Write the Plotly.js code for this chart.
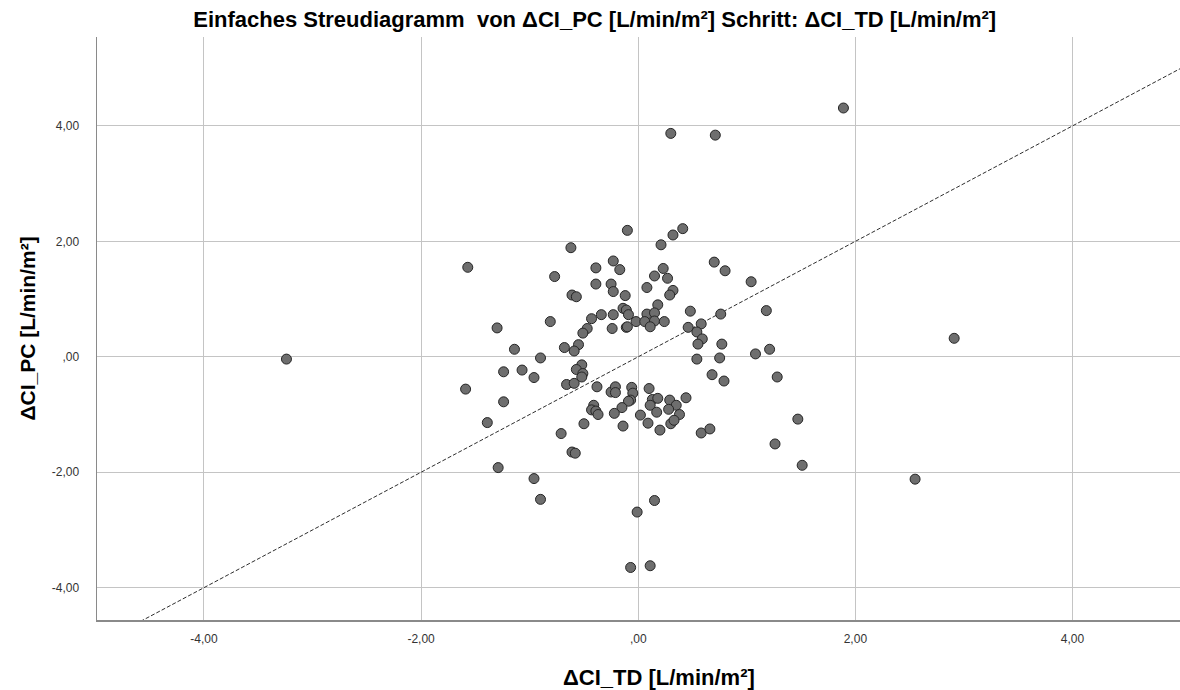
<!DOCTYPE html>
<html>
<head>
<meta charset="utf-8">
<script src="https://cdn.plot.ly/plotly-3.0.1.min.js"></script>
<style>
  html, body { margin: 0; padding: 0; background: #ffffff; }
  #chart { width: 1180px; height: 690px; }
</style>
</head>
<body>
<div id="chart"></div>
<script>
// ΔCI_TD (x) and ΔCI_PC (y), one entry per case, in L/min/m²
const ciTD = [
  -0.10, -0.62, -1.57, -0.23, -0.39, -0.17, -0.77, -0.39, -0.25, -0.23,
  -0.61, -0.57, -0.12, -0.14, -0.11, -0.34, -0.23, -0.43, -0.09, -0.02,
  -0.81, -0.47, -0.24, -0.11, -0.10, -1.30, -0.51, -1.14, -0.68, -0.55,
  -0.59, -0.90,
  0.41, 0.32, 0.21, 0.70, 0.80, 0.23, 0.15, 0.27, 1.04, 0.08,
  0.32, 0.29, 0.18, 0.48, 1.18, 0.76, 0.08, 0.15, 0.06, 0.15,
  0.24, 0.11, 0.58, 0.46, 0.54, 0.59, 0.55, 0.77, 1.21, 1.08,
  0.54, 0.75,
  0.68, 0.79, 1.28, 0.10, 0.13, 0.18, 0.29, 0.35, 0.44, 0.11,
  0.28, 0.38, 0.17, 0.02, 0.09, 0.30, 0.33, 0.20, 0.58, 0.66,
  1.47, 1.26, 1.51, 0.15,
  -1.24, -1.07, -0.96, -0.52, -0.57, -0.51, -0.52, -0.66, -0.59, -1.59,
  -0.38, -0.25, -0.21, -0.21, -0.06, -0.05, -0.07, -0.09, -1.24, -0.41,
  -0.43, -0.39, -0.37, -0.15, -0.22, -1.39, -0.50, -0.14, -0.71, -0.61,
  -0.58, -1.29, -0.96, -0.90,
  -0.01, -0.07, 0.11,
  -3.24, 1.89, 2.91, 2.55, 0.30, 0.71
];
const ciPC = [
  2.19, 1.89, 1.55, 1.66, 1.54, 1.51, 1.39, 1.26, 1.26, 1.13,
  1.07, 1.04, 1.06, 0.84, 0.81, 0.73, 0.73, 0.66, 0.73, 0.61,
  0.61, 0.49, 0.49, 0.51, 0.52, 0.50, 0.41, 0.13, 0.16, 0.21,
  0.10, -0.02,
  2.22, 2.11, 1.94, 1.64, 1.49, 1.53, 1.40, 1.36, 1.30, 1.20,
  1.15, 1.07, 0.90, 0.79, 0.80, 0.74, 0.74, 0.76, 0.61, 0.62,
  0.61, 0.52, 0.57, 0.51, 0.43, 0.31, 0.22, 0.22, 0.13, 0.05,
  -0.04, -0.02,
  -0.31, -0.42, -0.35, -0.55, -0.74, -0.72, -0.75, -0.84, -0.71, -0.84,
  -0.91, -1.00, -0.96, -1.01, -1.15, -1.16, -1.10, -1.27, -1.32, -1.25,
  -1.08, -1.51, -1.88, -2.49,
  -0.26, -0.23, -0.36, -0.14, -0.22, -0.29, -0.35, -0.48, -0.46, -0.56,
  -0.52, -0.61, -0.52, -0.62, -0.53, -0.63, -0.75, -0.77, -0.78, -0.84,
  -0.92, -0.94, -1.00, -0.88, -0.98, -1.14, -1.16, -1.20, -1.33, -1.65,
  -1.67, -1.92, -2.11, -2.47,
  -2.69, -3.65, -3.62,
  -0.04, 4.31, 0.32, -2.12, 3.87, 3.84
];

// Identity line y = x
const identityLine = [-6, 6];

const tickValues = [-4, -2, 0, 2, 4];
const tickLabels = ['-4,00', '-2,00', ',00', '2,00', '4,00'];

const xTitle = 'ΔCI_TD [L/min/m²]';
const yTitle = 'ΔCI_PC [L/min/m²]';
const chartTitle = 'Einfaches Streudiagramm  von ΔCI_PC [L/min/m²] Schritt: ΔCI_TD [L/min/m²]';

const FONT = 'Arial, "Liberation Sans", sans-serif';

const traces = [
  {
    x: identityLine,
    y: identityLine,
    type: 'scatter',
    mode: 'lines',
    line: { color: '#2e2e2e', width: 1, dash: '4px,2px' },
    hoverinfo: 'skip',
    showlegend: false
  },
  {
    x: ciTD,
    y: ciPC,
    type: 'scatter',
    mode: 'markers',
    marker: {
      size: 10,
      color: '#6e6e6e',
      line: { color: '#262626', width: 1 }
    },
    showlegend: false
  }
];

const layout = {
  width: 1180,
  height: 690,
  paper_bgcolor: '#ffffff',
  plot_bgcolor: '#ffffff',
  margin: { l: 97, r: 0, t: 37, b: 70, pad: 0 },
  font: { family: FONT, color: '#333333', size: 12 },
  title: {
    text: chartTitle,
    font: { family: FONT, size: 22, color: '#000000', weight: 'bold' },
    x: 0.504,
    xanchor: 'center',
    y: 0.972,
    yanchor: 'middle'
  },
  xaxis: {
    range: [-4.985, 4.99],
    tickvals: tickValues,
    ticktext: tickLabels,
    showgrid: true,
    gridcolor: '#c4c4c4',
    gridwidth: 1,
    zeroline: false,
    showline: true,
    linecolor: '#8a8a8a',
    linewidth: 1.5,
    ticks: '',
    ticklabelstandoff: 7,
    tickfont: { family: FONT, size: 12, color: '#333333' }
  },
  yaxis: {
    range: [-4.56, 5.54],
    tickvals: tickValues,
    ticktext: tickLabels,
    showgrid: true,
    gridcolor: '#c4c4c4',
    gridwidth: 1,
    zeroline: false,
    showline: true,
    linecolor: '#8a8a8a',
    linewidth: 1.5,
    ticks: '',
    ticklabelstandoff: 14,
    tickfont: { family: FONT, size: 12, color: '#333333' },
    title: {
      text: yTitle,
      font: { family: FONT, size: 21, color: '#000000', weight: 'bold' },
      standoff: 10
    }
  },
  annotations: [
    {
      // x-axis title, set slightly right of the plot centre
      text: xTitle,
      xref: 'paper',
      yref: 'paper',
      x: 0.519,
      y: -0.099,
      xanchor: 'center',
      yanchor: 'middle',
      showarrow: false,
      font: { family: FONT, size: 22, color: '#000000', weight: 'bold' }
    }
  ]
};

Plotly.newPlot('chart', traces, layout, { displayModeBar: false, staticPlot: true });
</script>
</body>
</html>
